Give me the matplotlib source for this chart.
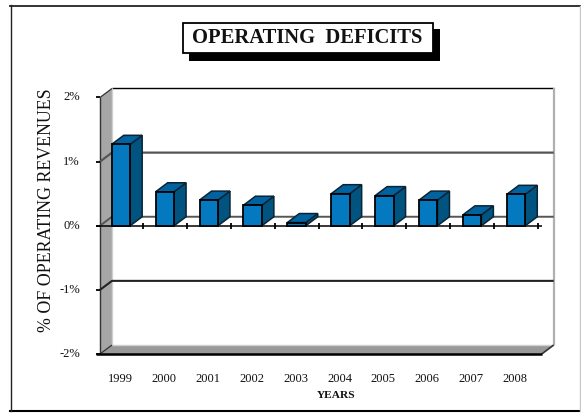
import matplotlib
matplotlib.use("Agg")
import matplotlib.pyplot as plt
from matplotlib.patches import Polygon, Rectangle

years = ["1999", "2000", "2001", "2002", "2003", "2004", "2005", "2006", "2007", "2008"]
deficits = [1.27, 0.53, 0.40, 0.32, 0.05, 0.50, 0.47, 0.40, 0.17, 0.49]
y_ticks = [-2, -1, 0, 1, 2]
y_tick_labels = ["-2%", "-1%", "0%", "1%", "2%"]

plt.rcParams["font.family"] = ["Liberation Serif", "DejaVu Serif"]
W, H = 581, 413
fig = plt.figure(figsize=(W / 100, H / 100), dpi=100)

L, R, T, B = 99.0, 538.0, 97.5, 354.0
ax = fig.add_axes([L / W, 1 - B / H, (R - L) / W, (B - T) / H])
ax.set_xlim(-0.5, 9.5)
ax.set_ylim(-2, 2)
ax.axis("off")

DX = 12 / ((R - L) / 10)   # depth in category units
DY = 9 / ((B - T) / 4)     # depth in percent units
x0, x1 = -0.478, 9.585     # front edge of the plot box
y0, y1 = -2, 2
WALL = "#a6a6a6"
FLOOR = "#999999"

def poly(pts, fc, ec="none", lw=0, z=1):
    ax.add_patch(Polygon(pts, closed=True, fc=fc, ec=ec, lw=lw, zorder=z, clip_on=False, joinstyle="miter"))

def line(xs, ys, c="black", lw=1.0, z=2):
    ax.plot(xs, ys, color=c, lw=lw, zorder=z, clip_on=False, solid_capstyle="butt")

# outer frame
fig.add_artist(plt.Line2D([10 / W, 581 / W], [1 - 5.7 / H] * 2, color="#333333", lw=1.4))
fig.add_artist(plt.Line2D([10 / W, 581 / W], [1 - 411 / H] * 2, color="black", lw=1.5))
fig.add_artist(plt.Line2D([10.5 / W] * 2, [1 - 5 / H, 1 - 411 / H], color="#222222", lw=1.0))
fig.add_artist(plt.Line2D([580 / W] * 2, [1 - 6 / H, 1 - 411 / H], color="#c8c8c8", lw=1.0))

# back wall / side walls / floor
poly([(x0 + DX, y0 + DY), (x1 + DX, y0 + DY), (x1 + DX, y1 + DY), (x0 + DX, y1 + DY)], "white")
poly([(x0, y0), (x0 + DX, y0 + DY), (x0 + DX, y1 + DY), (x0, y1)], WALL)
poly([(x0, y0), (x1, y0), (x1 + DX, y0 + DY), (x0 + DX, y0 + DY)], FLOOR)
line([x0 + DX, x1 + DX], [y1 + DY] * 2, "black", 1.0)
line([x0 + DX] * 2, [y0 + DY, y1 + DY], "#d0d0d0", 1.0)
line([x1 + DX] * 2, [y0 + DY, y1 + DY], "#b0b0b0", 1.6)
line([x0 + DX, x1 + DX], [y0 + DY] * 2, "#d0d0d0", 1.0)
line([x0, x0], [y0, y1], "#333333", 1.0)
line([x1, x1 + DX], [y0, y0 + DY], "#333333", 1.2)

# gridlines on the back wall
for v, c, w in [(1, "#555555", 1.6), (0, "#555555", 1.4), (-1, "#222222", 1.5)]:
    line([x0, x0 + DX, x1 + DX], [v, v + DY, v + DY], c, w)
line([x0, x0 + DX], [y1, y1 + DY], "#333333", 0.9)
line([x0, x0 + DX], [y0, y0 + DY], "#333333", 0.9)

# axes lines and ticks
line([x0 - 0.09, x1], [y0, y0], "black", 1.8, z=3)
line([x0 - 0.09, x1], [0, 0], "black", 1.1, z=3)
for v in y_ticks:
    line([x0 - 0.09, x0], [v, v], "black", 1.3, z=3)
for i in range(1, len(years) + 1):
    xt = -0.5 + i
    line([xt, xt], [-0.05, 0.05], "black", 1.3, z=3)

# 3D bars
FRONT, TOP, SIDE = "#0579bf", "#00639f", "#00547f"
EDGE = "#0a2436"
hw = 0.21
for i, v in enumerate(deficits):
    l, r = i - hw, i + hw
    z = 10 + i
    poly([(r, 0), (r + DX, DY), (r + DX, v + DY), (r, v)], SIDE, EDGE, 1.1, z)
    poly([(l, v), (r, v), (r + DX, v + DY), (l + DX, v + DY)], TOP, EDGE, 1.1, z)
    poly([(l, 0), (r, 0), (r, v), (l, v)], FRONT, "black", 1.3, z)

# tick labels
for v, s in zip(y_ticks, y_tick_labels):
    ax.annotate(s, (-0.5, v), xytext=(-13.7, 0), textcoords="offset points",
                ha="right", va="center", fontsize=9, color="#111111")
for i, s in enumerate(years):
    ax.annotate(s, (i, y0), xytext=(-0.7, -18), textcoords="offset points",
                ha="center", va="center", fontsize=9, color="#111111")

fig.text(336 / W, 1 - 396 / H, "YEARS", ha="center", va="center", fontsize=8.2, fontweight="bold", color="#111111")
fig.text(46.5 / W, 1 - 210 / H, "% OF OPERATING REVENUES", rotation=90, ha="center", va="center",
         fontsize=12.9, color="#111111")

# title box with shadow
fig.add_artist(Rectangle((189 / W, 1 - 60.5 / H), 251 / W, 31 / H, transform=fig.transFigure, fc="black", ec="black", lw=0))
fig.add_artist(Rectangle((182.5 / W, 1 - 53 / H), 250.5 / W, 30.5 / H, transform=fig.transFigure, fc="white", ec="black", lw=1.3))
fig.text(307 / W, 1 - 38 / H, "OPERATING  DEFICITS", ha="center", va="center", fontsize=14.9,
         fontweight="bold", color="#111111", zorder=5)

fig.savefig("out.png", dpi=100)
